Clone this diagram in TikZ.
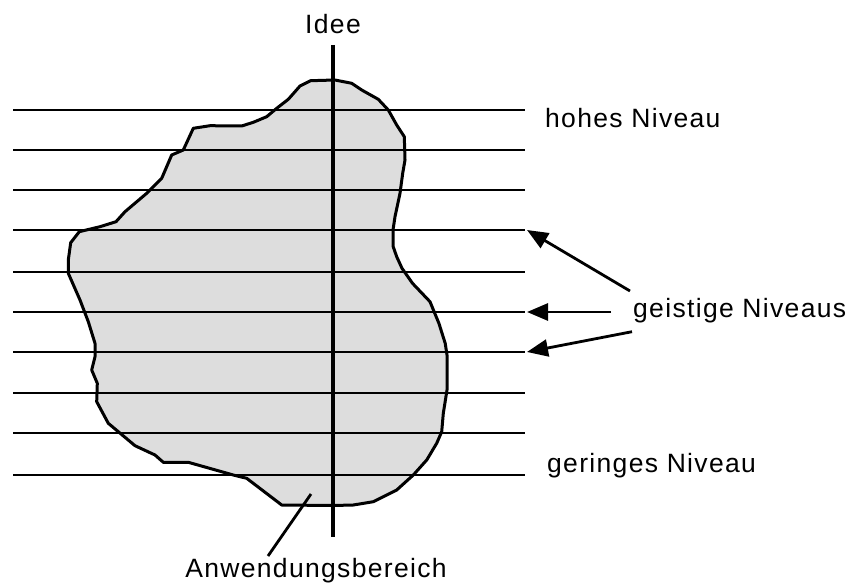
\documentclass[tikz,border=0pt]{standalone}
\usepackage{fontspec}
\setmainfont{Liberation Sans}[LetterSpace=5]
\usetikzlibrary{arrows.meta}
\definecolor{blobgray}{RGB}{221,221,221}
\tikzset{
  level/.style={line width=2pt},
  outline/.style={line width=3pt, line join=round},
  axisline/.style={line width=4.6pt},
  pointer/.style={line width=2.8pt, -{Triangle[length=21pt,width=17pt]}},
  plainptr/.style={line width=2.8pt},
  lbl/.style={inner sep=0pt, font=\fontsize{26.5pt}{30pt}\selectfont}
}
\begin{document}
\begin{tikzpicture}[x=1pt,y=-1pt]
\useasboundingbox (0,0) rectangle (850,585);
% blob
\path[fill=blobgray] (310.7,80.7) -- (335,80) -- (351.7,83.3) -- (361.7,90) -- (378.3,99.3) -- (388.3,110) -- (396.7,125) -- (404.3,136.7) -- (405,160) -- (402.7,173.3) -- (400,193.3) -- (395,216.7) -- (393,230) -- (393.2,246.7) -- (396.7,256.7) -- (402,268.3) -- (412.5,283.3) -- (430,301.7) -- (438.9,323.3) -- (445.2,343.3) -- (447,355) -- (447,390) -- (443.3,413.3) -- (441.7,431.7) -- (436.7,443.3) -- (426.7,460) -- (413.3,475) -- (396.7,490) -- (373.3,501.7) -- (353.3,505) -- (333,505.5) -- (281.7,505) -- (246.7,478.3) -- (233.3,475) -- (188.3,462.3) -- (163.3,462.3) -- (155,455) -- (135,445.7) -- (108.3,423.3) -- (96.7,401.7) -- (97.3,383.3) -- (91.7,370) -- (95,356.7) -- (95,343.3) -- (88.3,321.7) -- (80,300) -- (68.3,273.3) -- (68.3,260) -- (70.7,242.7) -- (79.3,231.7) -- (100,226.7) -- (116,221.7) -- (125,211.7) -- (146.7,193.3) -- (161.7,178.3) -- (171.7,155) -- (183.3,150) -- (193.3,128.3) -- (210,125.7) -- (241.7,126) -- (253.3,122.3) -- (266.7,116.7) -- (276.7,108.3) -- (288.3,99.3) -- (300,86) -- cycle;
% levels
\foreach \yy [count=\i] in {110,150,190,230,272,312,352,393,433,475}{
  \coordinate (ls\i) at (13,\yy);
  \coordinate (le\i) at (525,\yy);
  \draw[level] (ls\i) -- (le\i);
}
% blob outline
\draw[outline] (310.7,80.7) -- (335,80) -- (351.7,83.3) -- (361.7,90) -- (378.3,99.3) -- (388.3,110) -- (396.7,125) -- (404.3,136.7) -- (405,160) -- (402.7,173.3) -- (400,193.3) -- (395,216.7) -- (393,230) -- (393.2,246.7) -- (396.7,256.7) -- (402,268.3) -- (412.5,283.3) -- (430,301.7) -- (438.9,323.3) -- (445.2,343.3) -- (447,355) -- (447,390) -- (443.3,413.3) -- (441.7,431.7) -- (436.7,443.3) -- (426.7,460) -- (413.3,475) -- (396.7,490) -- (373.3,501.7) -- (353.3,505) -- (333,505.5) -- (281.7,505) -- (246.7,478.3) -- (233.3,475) -- (188.3,462.3) -- (163.3,462.3) -- (155,455) -- (135,445.7) -- (108.3,423.3) -- (96.7,401.7) -- (97.3,383.3) -- (91.7,370) -- (95,356.7) -- (95,343.3) -- (88.3,321.7) -- (80,300) -- (68.3,273.3) -- (68.3,260) -- (70.7,242.7) -- (79.3,231.7) -- (100,226.7) -- (116,221.7) -- (125,211.7) -- (146.7,193.3) -- (161.7,178.3) -- (171.7,155) -- (183.3,150) -- (193.3,128.3) -- (210,125.7) -- (241.7,126) -- (253.3,122.3) -- (266.7,116.7) -- (276.7,108.3) -- (288.3,99.3) -- (300,86) -- cycle;
% idea axis
\coordinate (axtop) at (333,45);
\coordinate (axbot) at (333,537);
\draw[axisline] (axtop) -- (axbot);
% labels
\node[lbl, anchor=base] (idee) at (333,34) {Idee};
\node[lbl, anchor=base west] (hoch) at (545,128) {hohes Niveau};
\node[lbl, anchor=base west] (geist) at (633,317) {geistige Niveaus};
\node[lbl, anchor=base west] (gering) at (547,472) {geringes Niveau};
\node[lbl, anchor=base] (anw) at (316,577) {Anwendungsbereich};
% arrows
\coordinate (t1) at (630,291);
\coordinate (t2) at (611,312);
\coordinate (t3) at (632,331.7);
\coordinate (h1) at (527,230);
\coordinate (h2) at (527,312);
\coordinate (h3) at (527,352);
\draw[pointer] (t1) -- (h1);
\draw[pointer] (t2) -- (h2);
\draw[pointer] (t3) -- (h3);
\coordinate (p1) at (268,556);
\coordinate (p2) at (311,494);
\draw[plainptr] (p1) -- (p2);
\end{tikzpicture}
\end{document}
